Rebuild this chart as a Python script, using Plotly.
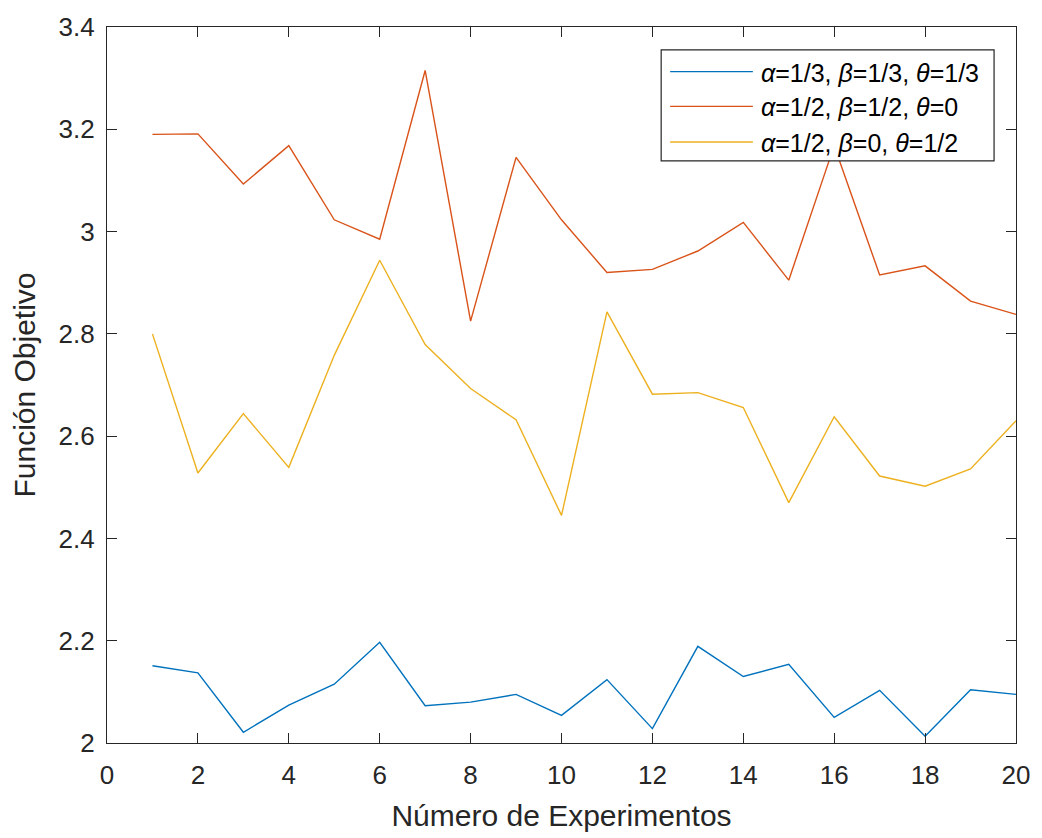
import plotly.graph_objects as go

# Experiment index
experimentos = list(range(1, 21))

# Objective function value per experiment for each weight setting
obj_tercios = [2.151, 2.137, 2.021, 2.074, 2.115, 2.197, 2.073, 2.080, 2.095, 2.054,
               2.124, 2.028, 2.189, 2.130, 2.154, 2.050, 2.103, 2.013, 2.104, 2.095]
obj_theta0 = [3.190, 3.191, 3.093, 3.168, 3.023, 2.985, 3.315, 2.825, 3.145, 3.023,
              2.920, 2.926, 2.962, 3.018, 2.905, 3.168, 2.915, 2.933, 2.864, 2.838]
obj_beta0 = [2.800, 2.528, 2.644, 2.539, 2.758, 2.944, 2.779, 2.693, 2.632, 2.445,
             2.843, 2.682, 2.685, 2.656, 2.470, 2.638, 2.522, 2.502, 2.536, 2.630]

series_names = [
    "<i>α</i>=1/3, <i>β</i>=1/3, <i>θ</i>=1/3",
    "<i>α</i>=1/2, <i>β</i>=1/2, <i>θ</i>=0",
    "<i>α</i>=1/2, <i>β</i>=0, <i>θ</i>=1/2",
]
series_values = [obj_tercios, obj_theta0, obj_beta0]
colors = ["#0072BD", "#D95319", "#EDB120"]

x_ticks = list(range(0, 21, 2))
y_ticks = [2.0, 2.2, 2.4, 2.6, 2.8, 3.0, 3.2, 3.4]
y_tick_text = ["2", "2.2", "2.4", "2.6", "2.8", "3", "3.2", "3.4"]

W, H = 1042, 838
L, R, T, B = 107, 23, 22, 94
FONT = "Liberation Sans, Arial, Helvetica, sans-serif"
AXIS_COLOR = "#262626"

fig = go.Figure()
for name, vals, col in zip(series_names, series_values, colors):
    fig.add_trace(go.Scatter(
        x=experimentos, y=vals, mode="lines", name=name,
        line=dict(color=col, width=1.4), showlegend=False,
    ))

# Legend box drawn in paper coordinates (long MATLAB-style line samples)
pw, ph = W - L - R, H - T - B
def px(x):
    return (x - L) / pw
def py(y):
    return 1 - (y - T) / ph

box_l, box_r, box_t, box_b = 663, 997, 45, 157
fig.add_shape(type="rect", xref="paper", yref="paper",
              x0=px(box_l), x1=px(box_r), y0=py(box_b), y1=py(box_t),
              line=dict(color=AXIS_COLOR, width=1.2), fillcolor="white", layer="above")
row_y = [68, 103, 139]
for name, col, ry in zip(series_names, colors, row_y):
    fig.add_shape(type="line", xref="paper", yref="paper",
                  x0=px(672), x1=px(755), y0=py(ry - 1), y1=py(ry - 1),
                  line=dict(color=col, width=1.4), layer="above")
    fig.add_annotation(xref="paper", yref="paper", x=px(761), y=py(ry),
                       xanchor="left", yanchor="middle", text=name, showarrow=False,
                       font=dict(family=FONT, size=25, color="black"))

axis_common = dict(
    showline=True, linecolor=AXIS_COLOR, linewidth=1.2, mirror="ticks",
    ticks="inside", ticklen=10, tickcolor=AXIS_COLOR, tickwidth=1.2,
    showgrid=False, zeroline=False,
    tickfont=dict(family=FONT, size=26, color=AXIS_COLOR),
)

fig.update_layout(
    width=W, height=H,
    margin=dict(l=L, r=R, t=T, b=B, pad=0),
    paper_bgcolor="white", plot_bgcolor="white",
    font=dict(family=FONT, color=AXIS_COLOR),
    xaxis=dict(range=[0, 20], tickvals=x_ticks, ticklabelstandoff=9,
               title=dict(text="Número de Experimentos", standoff=15,
                          font=dict(family=FONT, size=30, color=AXIS_COLOR)),
               **axis_common),
    yaxis=dict(range=[2, 3.4], tickvals=y_ticks, ticktext=y_tick_text,
               ticklabelstandoff=6,
               title=dict(text="Función Objetivo", standoff=14,
                          font=dict(family=FONT, size=30, color=AXIS_COLOR)),
               **axis_common),
)

fig.write_html("out.html")
